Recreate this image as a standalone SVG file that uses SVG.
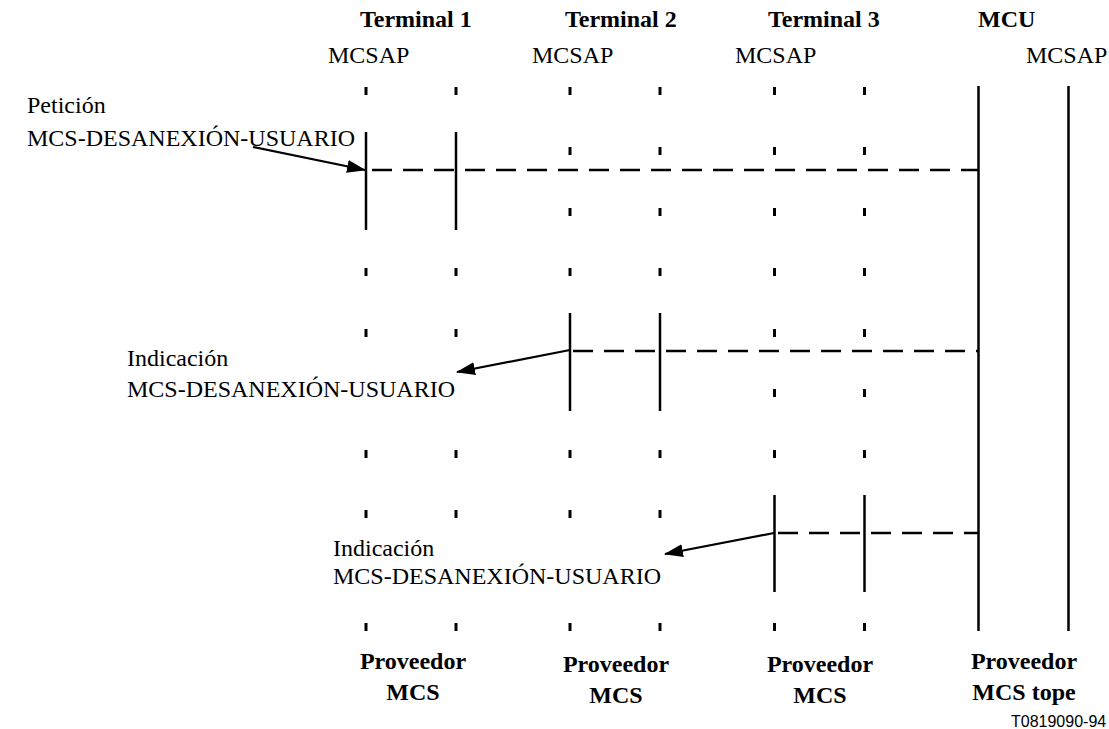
<svg xmlns="http://www.w3.org/2000/svg" width="1109" height="729" viewBox="0 0 1109 729">
<defs>
<style>
.h{font-family:"Liberation Serif","Times New Roman",serif;font-size:24px;font-weight:bold;fill:#000}
.t{font-family:"Liberation Serif","Times New Roman",serif;font-size:24px;fill:#000}
.b{font-family:"Liberation Serif","Times New Roman",serif;font-size:24px;font-weight:bold;fill:#000;text-anchor:middle}
.code{font-family:"Liberation Sans",Arial,sans-serif;font-size:16px;fill:#000}
.tick{stroke:#000;stroke-width:3;fill:none}
.solid{stroke:#000;stroke-width:2.5;fill:none}
.dash{stroke:#000;stroke-width:2.5;stroke-dasharray:20 11;fill:none}
.arr{stroke:#000;stroke-width:2.2;fill:none}
</style>
<marker id="ah" markerWidth="19" markerHeight="13" refX="18" refY="6.5" orient="auto" markerUnits="userSpaceOnUse">
<path d="M0,0 L19,6.5 L0,13 Z" fill="#000"/>
</marker>
<g id="tk"><line class="tick" x1="0" y1="-4" x2="0" y2="4"/></g>
</defs>
<rect width="1109" height="729" fill="#fff"/>

<g id="terminal1">
<text class="h" x="360" y="27">Terminal 1</text>
<text class="t" x="328" y="63">MCSAP</text>
<g>
<use href="#tk" x="366" y="91"/><use href="#tk" x="456" y="91"/>
<use href="#tk" x="366" y="272"/><use href="#tk" x="456" y="272"/>
<use href="#tk" x="366" y="333"/><use href="#tk" x="456" y="333"/>
<use href="#tk" x="366" y="454"/><use href="#tk" x="456" y="454"/>
<use href="#tk" x="366" y="514"/><use href="#tk" x="456" y="514"/>
<use href="#tk" x="366" y="627"/><use href="#tk" x="456" y="627"/>
</g>
<line class="solid" x1="366" y1="132" x2="366" y2="230"/>
<line class="solid" x1="456" y1="132" x2="456" y2="230"/>
<text class="b" x="413" y="669">Proveedor</text>
<text class="b" x="413" y="700">MCS</text>
</g>

<g id="terminal2">
<text class="h" x="565" y="27">Terminal 2</text>
<text class="t" x="532" y="63">MCSAP</text>
<g>
<use href="#tk" x="570" y="91"/><use href="#tk" x="660" y="91"/>
<use href="#tk" x="570" y="151"/><use href="#tk" x="660" y="151"/>
<use href="#tk" x="570" y="212"/><use href="#tk" x="660" y="212"/>
<use href="#tk" x="570" y="272"/><use href="#tk" x="660" y="272"/>
<use href="#tk" x="570" y="454"/><use href="#tk" x="660" y="454"/>
<use href="#tk" x="570" y="514"/><use href="#tk" x="660" y="514"/>
<use href="#tk" x="570" y="627"/><use href="#tk" x="660" y="627"/>
</g>
<line class="solid" x1="570" y1="313" x2="570" y2="411"/>
<line class="solid" x1="660" y1="313" x2="660" y2="411"/>
<text class="b" x="616" y="672">Proveedor</text>
<text class="b" x="616" y="703">MCS</text>
</g>

<g id="terminal3">
<text class="h" x="768" y="27">Terminal 3</text>
<text class="t" x="735" y="63">MCSAP</text>
<g>
<use href="#tk" x="774.5" y="91"/><use href="#tk" x="864.5" y="91"/>
<use href="#tk" x="774.5" y="151"/><use href="#tk" x="864.5" y="151"/>
<use href="#tk" x="774.5" y="212"/><use href="#tk" x="864.5" y="212"/>
<use href="#tk" x="774.5" y="272"/><use href="#tk" x="864.5" y="272"/>
<use href="#tk" x="774.5" y="333"/><use href="#tk" x="864.5" y="333"/>
<use href="#tk" x="774.5" y="393"/><use href="#tk" x="864.5" y="393"/>
<use href="#tk" x="774.5" y="454"/><use href="#tk" x="864.5" y="454"/>
<use href="#tk" x="774.5" y="627"/><use href="#tk" x="864.5" y="627"/>
</g>
<line class="solid" x1="774.5" y1="495" x2="774.5" y2="592"/>
<line class="solid" x1="864.5" y1="495" x2="864.5" y2="592"/>
<text class="b" x="820" y="672">Proveedor</text>
<text class="b" x="820" y="703">MCS</text>
</g>

<g id="mcu">
<text class="h" x="978" y="27">MCU</text>
<text class="t" x="1026" y="63">MCSAP</text>
<line class="solid" x1="978.5" y1="86" x2="978.5" y2="631"/>
<line class="solid" x1="1068.5" y1="86" x2="1068.5" y2="631"/>
<text class="b" x="1024" y="669">Proveedor</text>
<text class="b" x="1024" y="700">MCS tope</text>
</g>

<g id="labels">
<text class="t" x="27" y="113">Petición</text>
<text class="t" x="27" y="146">MCS-DESANEXIÓN-USUARIO</text>
<text class="t" x="127" y="366">Indicación</text>
<text class="t" x="127" y="397">MCS-DESANEXIÓN-USUARIO</text>
<text class="t" x="333" y="556">Indicación</text>
<text class="t" x="333" y="584">MCS-DESANEXIÓN-USUARIO</text>
<text class="code" x="1011" y="727">T0819090-94</text>
</g>

<g id="connectors">
<line class="dash" x1="372" y1="170" x2="978" y2="170"/>
<line class="dash" x1="573" y1="351" x2="978" y2="351"/>
<line class="dash" x1="778" y1="533" x2="978" y2="533"/>
<line class="arr" x1="253" y1="147" x2="365" y2="170" marker-end="url(#ah)"/>
<line class="arr" x1="570" y1="350" x2="457" y2="372" marker-end="url(#ah)"/>
<line class="arr" x1="774" y1="533" x2="665" y2="554" marker-end="url(#ah)"/>
</g>
</svg>
